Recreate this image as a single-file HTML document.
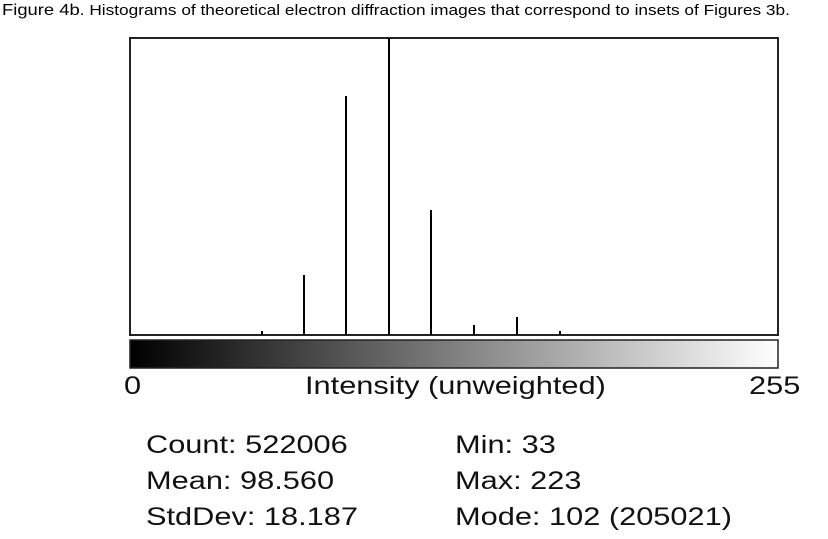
<!DOCTYPE html>
<html><head><style>
body{margin:0;width:828px;height:539px;background:#fff;overflow:hidden;font-family:"Liberation Sans",sans-serif;}
.cap{position:absolute;left:2px;top:2px;font-size:15px;color:#000;white-space:nowrap;transform:scaleX(1.15);transform-origin:left top;}
.t{position:absolute;font-size:25px;color:#111;white-space:nowrap;line-height:1;transform:scaleX(1.23);transform-origin:left top;}
</style></head><body>
<div class="cap"><span style="font-size:16px">Figure 4b</span>. Histograms of theoretical electron diffraction images that correspond to insets of Figures 3b.</div>
<svg width="828" height="539" style="position:absolute;left:0;top:0">
<defs><linearGradient id="g" x1="0" x2="1"><stop offset="0" stop-color="#000"/><stop offset="1" stop-color="#fff"/></linearGradient></defs>
<rect x="130" y="38" width="648" height="297" fill="none" stroke="#222" stroke-width="2"/>
<g stroke="#000" stroke-width="2">
<line x1="262" y1="335" x2="262" y2="331"/>
<line x1="304" y1="335" x2="304" y2="275"/>
<line x1="346" y1="335" x2="346" y2="96"/>
<line x1="389" y1="335" x2="389" y2="38"/>
<line x1="431" y1="335" x2="431" y2="210"/>
<line x1="474" y1="335" x2="474" y2="325"/>
<line x1="517" y1="335" x2="517" y2="317"/>
<line x1="560" y1="335" x2="560" y2="331"/>
</g>
<rect x="130" y="340" width="648" height="28" fill="url(#g)" stroke="#222" stroke-width="1.5"/>
</svg>
<div class="t" style="left:124px;top:374px">0</div>
<div class="t" style="left:305px;top:374px">Intensity (unweighted)</div>
<div class="t" style="left:749px;top:374px">255</div>
<div class="t" style="left:146px;top:433px">Count: 522006</div>
<div class="t" style="left:146px;top:469px">Mean: 98.560</div>
<div class="t" style="left:146px;top:505px">StdDev: 18.187</div>
<div class="t" style="left:455px;top:433px">Min: 33</div>
<div class="t" style="left:455px;top:469px">Max: 223</div>
<div class="t" style="left:455px;top:505px">Mode: 102 (205021)</div>
</body></html>
